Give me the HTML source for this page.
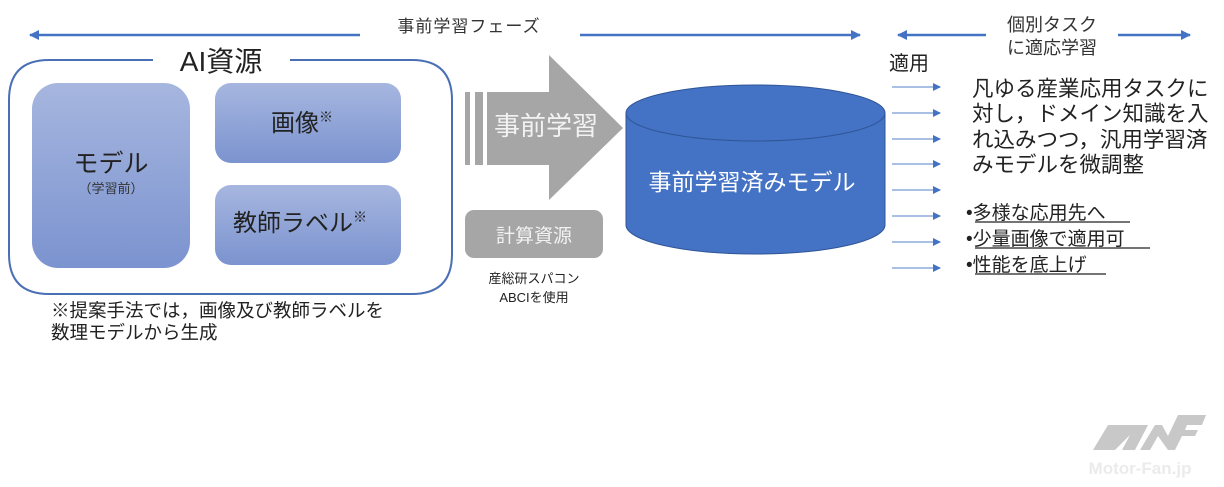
<!DOCTYPE html>
<html><head><meta charset="utf-8"><style>
html,body{margin:0;padding:0;background:#fff;}
svg{display:block;}
text{font-family:"Liberation Sans","Noto Sans CJK JP",sans-serif;}
</style></head><body>
<svg width="1224" height="487" viewBox="0 0 1224 487" xmlns="http://www.w3.org/2000/svg">
<defs>
<linearGradient id="g" x1="0" y1="0" x2="0" y2="1"><stop offset="0" stop-color="#a6b6df"/><stop offset="1" stop-color="#7b93cf"/></linearGradient>
<marker id="ah" markerWidth="8" markerHeight="8" refX="7" refY="4" orient="auto" markerUnits="userSpaceOnUse"><path d="M0,0 L8,4 L0,8 Z" fill="#4472c4"/></marker>
<marker id="ah2" markerWidth="10" markerHeight="10" refX="9" refY="5" orient="auto" markerUnits="userSpaceOnUse"><path d="M0,0 L10,5 L0,10 Z" fill="#4472c4"/></marker>
</defs>
<line x1="360" y1="35" x2="30" y2="35" stroke="#4472c4" stroke-width="2.5" marker-end="url(#ah2)"/>
<line x1="580" y1="35" x2="860" y2="35" stroke="#4472c4" stroke-width="2.5" marker-end="url(#ah2)"/>
<text x="469" y="32" font-size="17" text-anchor="middle" fill="#333" letter-spacing="1">事前学習フェーズ</text>
<line x1="986" y1="35" x2="898" y2="35" stroke="#4472c4" stroke-width="2.5" marker-end="url(#ah2)"/>
<line x1="1118" y1="35" x2="1190" y2="35" stroke="#4472c4" stroke-width="2.5" marker-end="url(#ah2)"/>
<text x="1052" y="31" font-size="18" text-anchor="middle" fill="#333">個別タスク</text>
<text x="1052" y="54" font-size="18" text-anchor="middle" fill="#333">に適応学習</text>
<path d="M153,60 H49 Q9,60 9,100 V254 Q9,294 49,294 H412 Q452,294 452,254 V100 Q452,60 412,60 H290" fill="none" stroke="#4a6fb5" stroke-width="2"/>
<text x="221" y="71" font-size="28" text-anchor="middle" fill="#222">AI資源</text>
<rect x="32" y="83" width="158" height="185" rx="26" fill="url(#g)"/>
<text x="111" y="172" font-size="25" text-anchor="middle" fill="#222">モデル</text>
<text x="111" y="193" font-size="13" text-anchor="middle" fill="#333">（学習前）</text>
<rect x="215" y="83" width="186" height="80" rx="16" fill="url(#g)"/>
<text x="302" y="131" font-size="24" text-anchor="middle" fill="#222">画像<tspan font-size="14" dy="-9">※</tspan></text>
<rect x="215" y="185" width="186" height="80" rx="16" fill="url(#g)"/>
<text x="300" y="231" font-size="24" text-anchor="middle" fill="#222">教師ラベル<tspan font-size="14" dy="-9">※</tspan></text>
<text x="51" y="317" font-size="18.5" fill="#222">※提案手法では，画像及び教師ラベルを</text>
<text x="51" y="339" font-size="18.5" fill="#222">数理モデルから生成</text>
<rect x="465" y="92" width="5" height="73" fill="#a6a6a6"/>
<rect x="475" y="92" width="8" height="73" fill="#a6a6a6"/>
<path d="M487,92 H549 V55 L623,128 L549,200 V165 H487 Z" fill="#a6a6a6"/>
<text x="546" y="135" font-size="26" text-anchor="middle" fill="#f2f2f2">事前学習</text>
<rect x="465" y="210" width="138" height="48" rx="9" fill="#a6a6a6"/>
<text x="534" y="242" font-size="19" text-anchor="middle" fill="#f2f2f2">計算資源</text>
<text x="534" y="283" font-size="13" text-anchor="middle" fill="#222">産総研スパコン</text>
<text x="534" y="302" font-size="13" text-anchor="middle" fill="#222">ABCIを使用</text>
<path d="M626,113 V225 A129.5,29 0 0 0 885,225 V113" fill="#4472c4" stroke="#2f5597" stroke-width="1"/>
<ellipse cx="755.5" cy="113" rx="129.5" ry="28" fill="#4472c4" stroke="#2f5597" stroke-width="1"/>
<text x="752" y="190" font-size="23" text-anchor="middle" fill="#fff">事前学習済みモデル</text>
<text x="889" y="70" font-size="20" fill="#222">適用</text>
<g stroke="#8eaadb" stroke-width="1.5">
<line x1="892" y1="87" x2="940" y2="87" marker-end="url(#ah)"/>
<line x1="892" y1="113" x2="940" y2="113" marker-end="url(#ah)"/>
<line x1="892" y1="139" x2="940" y2="139" marker-end="url(#ah)"/>
<line x1="892" y1="164" x2="940" y2="164" marker-end="url(#ah)"/>
<line x1="892" y1="190" x2="940" y2="190" marker-end="url(#ah)"/>
<line x1="892" y1="216" x2="940" y2="216" marker-end="url(#ah)"/>
<line x1="892" y1="242" x2="940" y2="242" marker-end="url(#ah)"/>
<line x1="892" y1="268" x2="940" y2="268" marker-end="url(#ah)"/>
</g>
<g font-size="21.5" fill="#222">
<text x="972" y="96">凡ゆる産業応用タスクに</text>
<text x="972" y="121">対し，ドメイン知識を入</text>
<text x="972" y="147">れ込みつつ，汎用学習済</text>
<text x="972" y="172">みモデルを微調整</text>
</g>
<g font-size="19" fill="#222">
<text x="966" y="219">•多様な応用先へ</text>
<text x="966" y="245">•少量画像で適用可</text>
<text x="966" y="271">•性能を底上げ</text>
</g>
<line x1="975" y1="222" x2="1130" y2="222" stroke="#222" stroke-width="1.2"/>
<line x1="975" y1="248" x2="1150" y2="248" stroke="#222" stroke-width="1.2"/>
<line x1="975" y1="274" x2="1106" y2="274" stroke="#222" stroke-width="1.2"/>
<g fill="#c8c8c8">
<path d="M1093,450 L1108,425 L1128,425 L1118,445 L1128,425 L1148,425 L1135,450 L1122,450 L1130,435 L1115,450 Z"/>
<path d="M1140,450 L1155,425 L1162,425 L1168,436 L1178,415 L1206,415 L1202,425 L1187,425 L1185,430 L1198,430 L1195,436 L1182,436 L1175,450 L1168,450 L1158,436 L1150,450 Z"/>
</g>
<text x="1140" y="474" font-size="17" text-anchor="middle" fill="#ebebeb" font-weight="bold">Motor-Fan.jp</text>
</svg>
</body></html>
